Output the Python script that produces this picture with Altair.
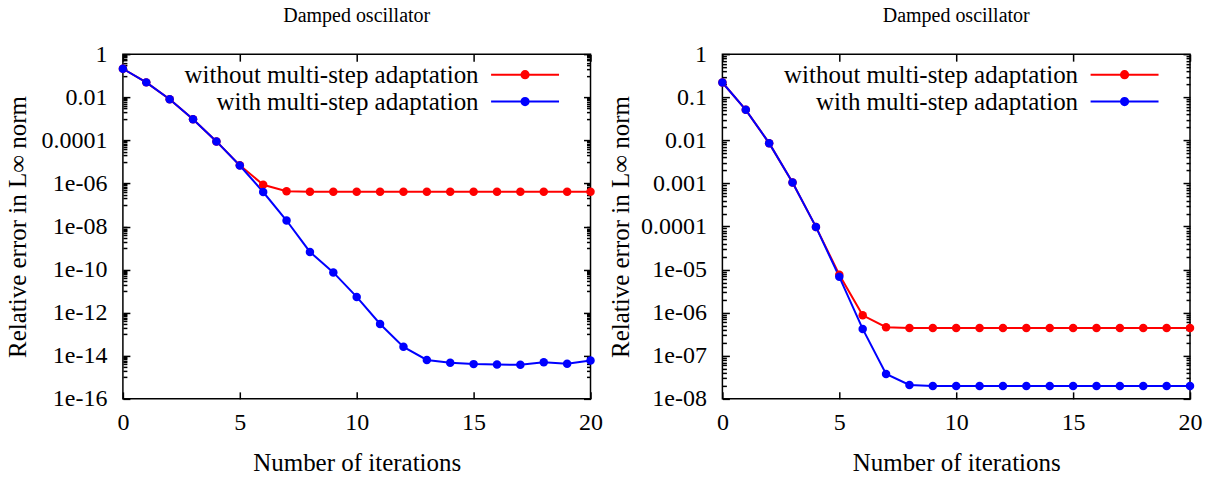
import math
import altair as alt
import pandas as pd

FONT = "Liberation Serif"

# ---------------- data ----------------
iterations = list(range(21))
series_names = ["without multi-step adaptation", "with multi-step adaptation"]
series_colors = ["#ff0000", "#0000ff"]

left_without = [0.21, 0.049, 0.0081, 9.5e-4, 8.9e-5, 6.9e-6, 8.7e-7, 4.3e-7,
                4.1e-7, 4.1e-7, 4.1e-7, 4.1e-7, 4.1e-7, 4.1e-7, 4.1e-7, 4.1e-7,
                4.1e-7, 4.1e-7, 4.1e-7, 4.1e-7, 4.1e-7]
left_with = [0.21, 0.049, 0.0081, 9.5e-4, 8.9e-5, 6.8e-6, 4.0e-7, 1.9e-8,
             6.6e-10, 7.4e-11, 5.4e-12, 3.0e-13, 2.6e-14, 6.4e-15, 4.8e-15,
             4.1e-15, 3.9e-15, 3.8e-15, 5.0e-15, 4.3e-15, 6.0e-15]

right_without = [0.22, 0.051, 0.0086, 1.05e-3, 9.8e-5, 7.6e-6, 8.7e-7, 4.6e-7,
                 4.4e-7, 4.4e-7, 4.4e-7, 4.4e-7, 4.4e-7, 4.4e-7, 4.4e-7, 4.4e-7,
                 4.4e-7, 4.4e-7, 4.4e-7, 4.4e-7, 4.4e-7]
right_with = [0.22, 0.051, 0.0086, 1.05e-3, 9.8e-5, 6.8e-6, 4.2e-7, 3.8e-8,
              2.1e-8, 2.0e-8, 2.0e-8, 2.0e-8, 2.0e-8, 2.0e-8, 2.0e-8, 2.0e-8,
              2.0e-8, 2.0e-8, 2.0e-8, 2.0e-8, 2.0e-8]

x_ticks = [0, 5, 10, 15, 20]
left_y_ticks = [1, 1e-2, 1e-4, 1e-6, 1e-8, 1e-10, 1e-12, 1e-14, 1e-16]
left_y_labels = ["1", "0.01", "0.0001", "1e-06", "1e-08", "1e-10", "1e-12", "1e-14", "1e-16"]
left_minor_exps = [-1, -3, -5, -7, -9, -11, -13, -15]
left_minor_mults = [1, 2, 3, 4, 5, 6, 7, 8, 9]

right_y_ticks = [1, 1e-1, 1e-2, 1e-3, 1e-4, 1e-5, 1e-6, 1e-7, 1e-8]
right_y_labels = ["1", "0.1", "0.01", "0.001", "0.0001", "1e-05", "1e-06", "1e-07", "1e-08"]
right_minor_exps = [-1, -2, -3, -4, -5, -6, -7, -8]
right_minor_mults = [2, 3, 4, 5, 6, 7, 8, 9]

title_text = "Damped oscillator"
x_title = "Number of iterations"
y_title = "Relative error in L\u221e norm"

W, H = 468, 345

# legend symbol drawn to the right of its label (units of 8 px)
LEGEND_SYMBOL = ("M3.125,0H11.625"
                 "M6.925,0A0.45,0.45 0 1,0 7.825,0A0.45,0.45 0 1,0 6.925,0"
                 "M7.2,0A0.175,0.175 0 1,0 7.55,0A0.175,0.175 0 1,0 7.2,0")


def panel(without, with_, yticks, ylabels, minor_exps, minor_mults, ydomain, title_x):
    df = pd.DataFrame({
        "iter": iterations * 2,
        "err": list(without) + list(with_),
        "series": [series_names[0]] * len(iterations) + [series_names[1]] * len(iterations),
    })
    exps = [round(math.log10(v)) for v in yticks]
    label_expr = f"{ylabels}[indexof({exps}, round(log(datum.value)/LN10))]"
    minor = [m * 10.0 ** k for k in minor_exps for m in minor_mults]

    xscale = alt.Scale(domain=[0, 20], nice=False)
    yscale = alt.Scale(type="log", domain=ydomain, nice=False)
    color = alt.Scale(domain=series_names, range=series_colors)

    base = alt.Chart(df)

    lines = base.mark_line(strokeWidth=2).encode(
        x=alt.X("iter:Q", scale=xscale, title=x_title,
                axis=alt.Axis(orient="bottom", values=x_ticks, ticks=False, tickSize=0,
                              labelPadding=12, titlePadding=16, labelFlush=False)),
        y=alt.Y("err:Q", scale=yscale, title=y_title,
                axis=alt.Axis(orient="left", values=yticks, labelExpr=label_expr,
                              ticks=False, tickSize=0, labelPadding=16,
                              titleX=title_x, titleY=H / 2, titleAngle=270,
                              titleAlign="center", titleBaseline="middle")),
        color=alt.Color("series:N", scale=color, sort=series_names,
                        legend=alt.Legend(orient="none", legendX=331, legendY=8, title=None,
                                          symbolType=LEGEND_SYMBOL, symbolSize=256,
                                          symbolStrokeWidth=2, symbolOffset=0,
                                          labelAlign="right", labelOffset=0, labelLimit=500,
                                          labelFont=FONT, labelFontSize=25,
                                          labelColor="black", rowPadding=1, padding=0)),
    )

    points = base.mark_point(filled=True, size=72, opacity=1).encode(
        x=alt.X("iter:Q", scale=xscale,
                axis=alt.Axis(orient="top", offset=-H, values=x_ticks, labels=False,
                              ticks=True, tickSize=7, title=None)),
        y=alt.Y("err:Q", scale=yscale,
                axis=alt.Axis(orient="right", offset=-W, values=yticks, labels=False,
                              ticks=True, tickSize=7, title=None)),
        color=alt.Color("series:N", scale=color, sort=series_names, legend=None),
    )

    ticks_b = base.mark_point(opacity=0).encode(
        x=alt.X("iter:Q", scale=xscale,
                axis=alt.Axis(orient="bottom", offset=-H, values=x_ticks, labels=False,
                              ticks=True, tickSize=7, title=None)),
        y=alt.Y("err:Q", scale=yscale,
                axis=alt.Axis(orient="left", offset=-W, values=yticks, labels=False,
                              ticks=True, tickSize=7, title=None)),
    )

    minor_l = base.mark_point(opacity=0).encode(
        x=alt.X("iter:Q", scale=xscale, axis=None),
        y=alt.Y("err:Q", scale=yscale,
                axis=alt.Axis(orient="right", offset=-W, values=minor, labels=False,
                              ticks=True, tickSize=4, title=None)),
    )
    minor_r = base.mark_point(opacity=0).encode(
        x=alt.X("iter:Q", scale=xscale, axis=None),
        y=alt.Y("err:Q", scale=yscale,
                axis=alt.Axis(orient="left", offset=-W, values=minor, labels=False,
                              ticks=True, tickSize=4, title=None)),
    )

    return alt.layer(lines, points, ticks_b, minor_l, minor_r).resolve_axis(
        x="independent", y="independent"
    ).properties(
        width=W, height=H,
        title=alt.TitleParams(title_text, font=FONT, fontSize=20, fontWeight="normal",
                              color="black", anchor="middle", offset=16),
    )


left = panel(left_without, left_with, left_y_ticks, left_y_labels,
             left_minor_exps, left_minor_mults, [1e-16, 1], -105)
right = panel(right_without, right_with, right_y_ticks, right_y_labels,
              right_minor_exps, right_minor_mults, [1e-8, 1], -102)

chart = alt.hconcat(left, right, spacing=4).resolve_scale(
    x="independent", y="independent", color="independent"
).resolve_legend(color="independent").properties(
    padding={"left": 5, "top": 5, "right": 5, "bottom": 5},
    background="white",
).configure_view(
    stroke="black", strokeWidth=1.5
).configure_axis(
    labelFont=FONT, labelFontSize=24, labelColor="black",
    titleFont=FONT, titleFontSize=25, titleFontWeight="normal", titleColor="black",
    domain=False, grid=False, tickColor="black", tickWidth=1.5,
)

chart.save("out.html", embed_options={"renderer": "svg", "actions": False})
